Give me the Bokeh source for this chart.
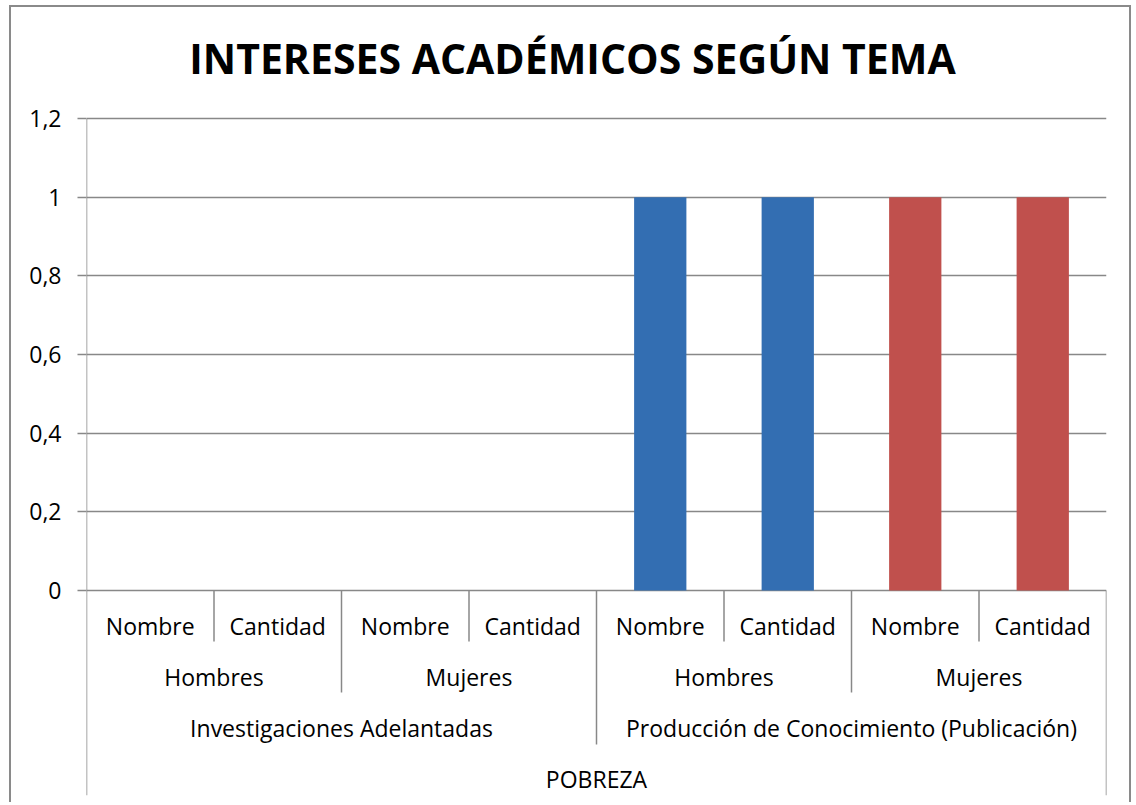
from bokeh.plotting import figure
from bokeh.models import Range1d, FixedTicker, CustomJSTickFormatter, ColumnDataSource
from bokeh.core.properties import value
from bokeh.embed import file_html
from bokeh.resources import INLINE

# ---- data ----
level1 = ["Nombre", "Cantidad", "Nombre", "Cantidad", "Nombre", "Cantidad", "Nombre", "Cantidad"]
level2 = ["Hombres", "Mujeres", "Hombres", "Mujeres"]
level3 = ["Investigaciones Adelantadas", "Producción de Conocimiento (Publicación)"]
level4 = ["POBREZA"]
values = [0, 0, 0, 0, 1, 1, 1, 1]
y_ticks = [0, 0.2, 0.4, 0.6, 0.8, 1.0, 1.2]
title_text = "INTERESES ACADÉMICOS SEGÚN TEMA"

group_colors = {"Hombres": "#336EB2", "Mujeres": "#C0504D"}

FONT = "Open Sans"
GRID = "#888888"

n = len(level1)
y_max = y_ticks[-1]
px_per_unit = (590 - 118) / y_max
y_bottom = -(795 - 590) / px_per_unit
y_top = (590 - 7) / px_per_unit

p = figure(width=1122, height=797, output_backend="svg", toolbar_location=None,
           x_range=Range1d(0, n), y_range=Range1d(y_bottom, y_top),
           x_axis_location=None, min_border_left=75, min_border_right=27,
           min_border_top=0, min_border_bottom=9,
           styles={"border": "2px solid #8a8a8a", "border-bottom": "none",
                   "margin-left": "9px", "margin-top": "5px"})
p.outline_line_color = None
p.xgrid.visible = False

# page-pixel -> data helpers (layout only)
def yd(page_y):
    return -(page_y - 590) / px_per_unit

def xd(page_x):
    return (page_x - 86) / ((1106 - 86) / n)

# title
p.text(x=[xd(572)], y=[yd(57)], text=[title_text], text_font=value(FONT),
       text_font_size="41px", text_font_style="bold", text_color="black",
       text_align="center", text_baseline="middle")

# y axis
ax = p.yaxis[0]
ax.ticker = FixedTicker(ticks=y_ticks)
ax.formatter = CustomJSTickFormatter(code="return (Math.round(tick*10)/10).toString().replace('.', ',');")
ax.major_tick_out = 9
ax.major_tick_in = 0
ax.minor_tick_line_color = None
ax.axis_line_color = None
ax.major_tick_line_color = GRID
ax.major_tick_line_width = 1.5
ax.major_label_text_font = FONT
ax.major_label_text_font_size = "23px"
ax.major_label_text_color = "black"
ax.major_label_standoff = 16
p.ygrid.ticker = FixedTicker(ticks=y_ticks)
p.ygrid.grid_line_color = GRID
p.ygrid.grid_line_width = 1.5

# bars
xs = [i + 0.5 for i in range(n)]
grp2 = [level2[i // 2] for i in range(n)]
colors = [group_colors[g] for g in grp2]
src = ColumnDataSource(dict(x=xs, top=values, color=colors))
p.vbar(x="x", top="top", width=0.41, bottom=0, fill_color="color", line_color=None, source=src)

# category labels
lab_style = dict(text_font=value(FONT), text_font_size="23px", text_color="black",
                 text_align="center", text_baseline="middle")
p.text(x=xs, y=[yd(625)] * n, text=level1, **lab_style)
x2 = [2 * i + 1 for i in range(len(level2))]
p.text(x=x2, y=[yd(676)] * len(level2), text=level2, **lab_style)
x3 = [4 * i + 2 for i in range(len(level3))]
p.text(x=x3, y=[yd(727)] * len(level3), text=level3, **lab_style)
p.text(x=[n / 2], y=[yd(778)], text=level4, **lab_style)

# axis line + separators
sx, sy0, sy1 = [0], [y_max], [y_bottom]
for b in range(1, n + 1):
    if b == n:
        end = y_bottom
    elif b % 4 == 0:
        end = yd(744)
    elif b % 2 == 0:
        end = yd(692)
    else:
        end = yd(641)
    sx.append(b); sy0.append(0); sy1.append(end)
p.segment(x0=sx, y0=sy0, x1=sx, y1=sy1, line_color=GRID, line_width=1.5)

open("out.html", "w").write(file_html(p, INLINE))
